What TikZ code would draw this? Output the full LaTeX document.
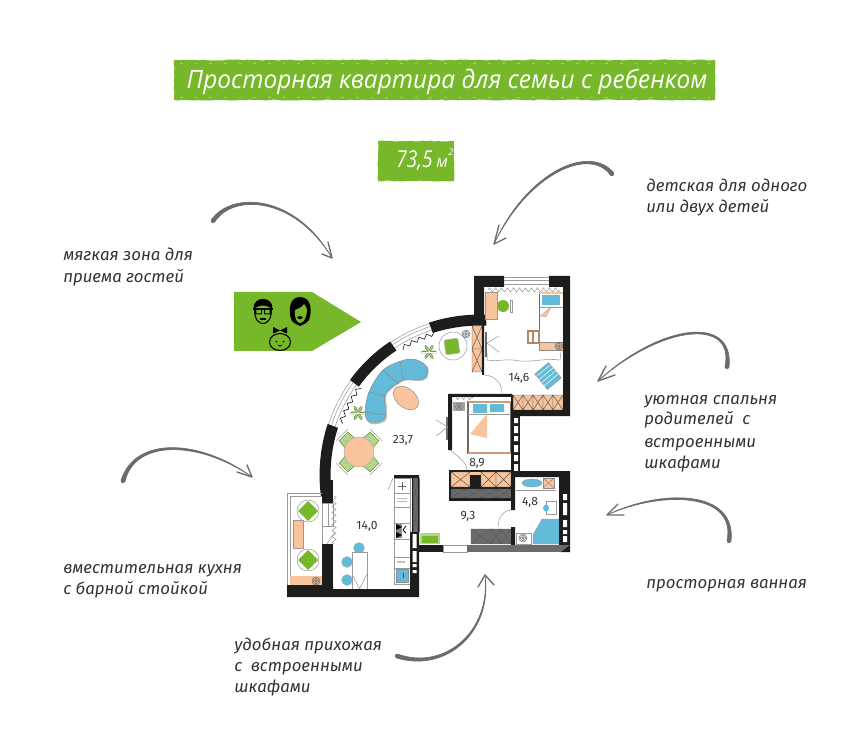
\documentclass[tikz,border=0pt]{standalone}
\usepackage{fontspec}
\setmainfont{Fira Sans}
\newfontfamily\titlefont{Open Sans}
\usetikzlibrary{decorations.pathmorphing,arrows.meta,calc}
\definecolor{leaf}{HTML}{76B82A}
\definecolor{leaflt}{HTML}{AFD68A}
\definecolor{peach}{HTML}{F9C39C}
\definecolor{sky}{HTML}{62BBD8}
\definecolor{wallk}{HTML}{1D1D1B}
\definecolor{cab}{HTML}{6A6B6D}
\definecolor{ink}{HTML}{333333}
\definecolor{arrowgr}{HTML}{6B6B6B}
\definecolor{thin}{HTML}{9A9A9A}
\tikzset{
  label/.style={font=\fontsize{12.6}{15}\selectfont\itshape,text=ink,anchor=base west,inner sep=0pt},
  area/.style={font=\fontsize{9}{10}\selectfont,text=ink,inner sep=0pt},
  barb/.style={draw=arrowgr,line width=1pt,line cap=round,line join=round},
  thinline/.style={draw=thin,line width=0.4pt},
  zig/.style={draw=thin,line width=0.4pt,decorate,decoration={zigzag,segment length=4.5pt,amplitude=1.6pt}}
}
\newcommand\wallseg[2]{\fill[wallk] plot[domain=#1:#2,samples=30] ({492+(172+6*cos(2*\x-450))*cos(\x)},{487+(172+6*cos(2*\x-450))*sin(\x)}) -- plot[domain=#1:#2,samples=30] ({492+(161+6*cos(2*(#1+#2-\x)-450))*cos(#1+#2-\x)},{487+(161+6*cos(2*(#1+#2-\x)-450))*sin(#1+#2-\x)}) -- cycle;}
\newcommand\winarc[3]{\draw[thinline] plot[domain=#2:#3,samples=30] ({492+(#1+6*cos(2*\x-450))*cos(\x)},{487+(#1+6*cos(2*\x-450))*sin(\x)});}
\newcommand\winseg[2]{\winarc{171}{#1}{#2}\winarc{168}{#1}{#2}\winarc{164}{#1}{#2}
  \pgfmathtruncatemacro\zn{(#2-#1)/1.4}
  \draw[thin,line width=0.4pt] plot[domain=0:\zn-1,samples=\zn] ({492+(160+6*cos(2*(#1+2+1.4*\x)-450)+2*(2*mod(round(\x),2)-1))*cos(#1+2+1.4*\x)},{487+(160+6*cos(2*(#1+2+1.4*\x)-450)+2*(2*mod(round(\x),2)-1))*sin(#1+2+1.4*\x)});}
\newcommand\ward[5]{\fill[#5] (#1,#2) rectangle (#3,#4);
  \draw[black!65,line width=0.35pt] (#1,#2) rectangle (#3,#4) (#1,#2) -- (#3,#4) (#1,#4) -- (#3,#2);}
\newcommand\spiro[2]{\draw[black!60,line width=0.35pt] (#1,#2) circle[radius=4] (#1,#2) circle[radius=2.6] (#1,#2) circle[radius=1.2];}
% tapered curved arrow: thick tail (p0), thin tip (p1)
\newcommand\taper[4]{\filldraw[fill=arrowgr,draw=arrowgr,line width=.5pt,line join=round] ($(#1)!1.5pt!90:(#2)$) .. controls ($(#2)!1.25pt!90:(#3)$) and ($(#3)!.7pt!90:(#4)$) .. (#4)
   .. controls ($(#3)!.7pt!-90:(#4)$) and ($(#2)!1.25pt!-90:(#3)$) .. ($(#1)!1.5pt!-90:(#2)$) -- cycle;
   \fill[arrowgr] (#1) circle[radius=1.6pt];}
\begin{document}
\begin{tikzpicture}[x=0.75pt,y=-0.75pt]
\useasboundingbox (0,0) rectangle (860,755);
\fill[white] (0,0) rectangle (860,755);

% title
\fill[leaf,decorate,decoration={random steps,segment length=3pt,amplitude=0.4pt}] (174,60) rectangle (715,100);
\draw[white,opacity=.35,line width=0.4pt,dash pattern=on 2pt off 9pt] (180,63) -- (710,63) (180,97) -- (710,97);
\node[font=\titlefont\fontsize{19}{22}\selectfont\itshape,text=white,inner sep=0pt,anchor=base] (title) at (447,89) {\scalebox{.965}[1]{Просторная квартира для семьи с ребенком}};
% area
\fill[leaf,decorate,decoration={random steps,segment length=3pt,amplitude=0.4pt}] (378,141) rectangle (454,181);
\node[font=\titlefont\fontsize{17.5}{20}\selectfont\itshape,text=white,inner sep=0pt,anchor=base east] (areanum) at (433,168) {\scalebox{.82}[1]{73,5}};
\node[font=\titlefont\fontsize{12.5}{14}\selectfont\itshape,text=white,inner sep=0pt,anchor=base west] (areaunit) at (436,168) {м};
\node[font=\titlefont\fontsize{7}{8}\selectfont\itshape,text=white,inner sep=0pt] (areasup) at (451,152) {2};

% family pentagon
\fill[leaf] (234,292) -- (312,292) -- (361,322) -- (312,351) -- (234,351) -- cycle;
% man
\begin{scope}[shift={(263,312)}]
\draw[black,line width=0.8pt] (-8.5,-3) .. controls (-8.5,8) and (-4,11.5) .. (0,11.5) .. controls (4,11.5) and (8.5,8) .. (8.5,-3);
\fill[black] (-9.5,-3) .. controls (-10.5,-16.5) and (10.5,-16.5) .. (9.5,-3) -- (6,-5) .. controls (2,-7) and (-2,-7) .. (-6,-5) -- cycle;
\draw[black,line width=1pt] (-10,-3) -- (10,-3);
\fill[black] (-8,-3) rectangle (-1,2.5) (1,-3) rectangle (8,2.5);
\fill[leaf] (-6.7,-2) rectangle (-2.2,1.4) (2.2,-2) rectangle (6.7,1.4);
\fill[black] (-3,6.5) rectangle (3,7.6);
\end{scope}
% woman
\begin{scope}[shift={(300,312)}]
\fill[black] (0,-15) .. controls (-13,-15) and (-11,4) .. (-8,9) .. controls (-5,12) and (-2,13) .. (0,14) .. controls (3,13) and (7,11) .. (9,8) .. controls (12,0) and (12,-15) .. (0,-15) -- cycle;
\fill[leaf] (4,-8) .. controls (2,-4) and (-3,-3) .. (-5,-2) .. controls (-6,6) and (-3,11) .. (0,11) .. controls (4,11) and (7,5) .. (7,-3) .. controls (6,-5) and (5,-7) .. (4,-8) -- cycle;
\fill[black] (-3,5) .. controls (-1,3.8) and (1,3.8) .. (3,5) .. controls (1,8) and (-1,8) .. (-3,5) -- cycle;
\end{scope}
% baby
\begin{scope}[shift={(280,342)}]
\draw[black,line width=0.8pt] (0,0) ellipse[x radius=10.5,y radius=8.5];
\fill[black] (0,-11.5) -- (-7,-15) -- (-7,-8.5) -- cycle (0,-11.5) -- (7,-15) -- (7,-8.5) -- cycle;
\fill[black] (-3.5,-0.5) circle[radius=0.8] (3.5,-0.5) circle[radius=0.8];
\draw[black,line width=0.5pt] (-2,3) .. controls (-1,4.5) and (1,4.5) .. (2,3);
\end{scope}

% ---------- floor plan: fittings first
% curved wall windows
\winseg{201}{217}
\winseg{235}{249}
\wallseg{249}{268}
\wallseg{217}{235}
\wallseg{177}{201}
% balcony frame
\draw[thinline] (287,493) rectangle (322,585) (290,496) rectangle (322,585);
\fill[peach] (290,576) rectangle (322,586);
\spiro{316}{581}
\fill[peach,draw=black!40,line width=0.3pt] (293,520) rectangle (303,548);
\draw[thinline] (308,511) circle[radius=11] (308,560) circle[radius=11];
\fill[leaf] (308,501) -- (318,511) -- (308,521) -- (298,511) -- cycle;
\fill[leaf] (308,550) -- (318,560) -- (308,570) -- (298,560) -- cycle;
% door between balcony and kitchen
\draw[thinline] (322,503) rectangle (333,526);
\draw[thinline] (328,503) -- (328,526);
\draw[zig] (334,496) -- (334,544);
\draw[thinline] (327,544) -- (335,532);

% dining
\begin{scope}[shift={(359,452)}]
\foreach \a in {45,135,225,315}{
  \begin{scope}[rotate=\a]
  \fill[leaflt,draw=leaf!70!black,line width=0.3pt] (12,-7) -- (22,-6) -- (22,6) -- (12,7) -- cycle;
  \draw[thinline] (24,-8) -- (24,8);
  \end{scope}}
\fill[peach,draw=black!35,line width=0.3pt] (0,0) circle[radius=15];
\end{scope}

% sofa
\fill[black!25] plot[smooth cycle,tension=0.55] coordinates {(366,414)(370,393)(384,371)(405,361)(418,361)(428,368)(427,378)(419,381)(404,381)(387,394)(387,408)(386,420)(378,424)(369,423)};
\fill[sky,draw=black!45,line width=0.35pt] plot[smooth cycle,tension=0.55] coordinates {(365,412)(369,392)(383,370)(404,360)(417,360)(427,367)(426,377)(418,380)(403,380)(386,393)(385,407)(385,418)(377,422)(368,421)};
\draw[black!45,line width=0.35pt] (369,392) -- (386,396) (383,370) -- (399,384) (400,361) -- (403,380) (365,412) -- (385,415);
% coffee table
\fill[peach,draw=black!45,line width=0.35pt,rotate around={-40:(406,398)}] (406,398) ellipse[x radius=14.5,y radius=9.5];
% plants
\foreach \px/\py/\nm in {429/352/a,358/413/b}{
  \begin{scope}[shift={(\px,\py)}]
  \foreach \a in {0,60,...,300}{
    \fill[leaf!70!black!80,rotate=\a] (0,0) .. controls (3,-2) and (7,-2) .. (8,0) .. controls (7,2) and (3,2) .. (0,0) -- cycle;}
  \foreach \a in {0,60,...,300}{\draw[white,line width=.25pt,rotate=\a] (0,0) -- (7,0);}
  \end{scope}}
% armchair
\draw[thinline] (453,346) circle[radius=14];
\fill[leaf,draw=black!30,line width=0.3pt,rounded corners=1pt,rotate around={8:(452,347)}] (445,339) -- (459,339) -- (459,354) -- (445,354) -- cycle;
\spiro{466}{334}

% kids room
\draw[zig] (488,290) -- (560,290);
\fill[peach] (485,292) rectangle (497,319);
\draw[black!40,line width=.3pt] (485,292) rectangle (497,319);
\draw[thinline] (510,300) rectangle (512,312);
\fill[leaf] (503,306) circle[radius=6];
\draw[cab,line width=.5pt] (539,292) -- (539,350);
\fill[peach] (539,292) rectangle (563,294.5);
\fill[sky] (542,295) rectangle (560,305);
\fill[peach,draw=black!35,line width=.25pt] (551,307) -- (540,316) -- (546,317) -- cycle;
\draw[thinline] (539,307) -- (563,307);
\fill[peach,draw=black!45,line width=.3pt] (539,342) rectangle (563,350);
\spiro{559}{346}
\draw[peach!70!black,line width=.9pt] (528,331) rectangle (539,343) (533,331) -- (533,343);
\draw[thinline] (487,353) -- (487,360) .. controls (500,362) and (505,358) .. (520,361) .. controls (535,362) and (545,358) .. (560,360) -- (561,352);
\fill[sky,draw=black!40,line width=.3pt,rotate around={40:(548,376)}] (539,366) rectangle (557,386);
\foreach \t in {-7,-3,1,5}{\draw[white,line width=.4pt,rotate around={40:(548,376)}] (539,376+\t) -- (557,376+\t);}
\ward{472}{326}{482}{349}{peach}
\ward{472}{349}{482}{372}{peach}
\foreach \a/\b in {513/523,523/533,533/543,543/553,553/563}{\ward{\a}{395}{\b}{410}{peach}}
\fill[cab] (485,332) rectangle (487,357);
\draw[thinline] (487,343) -- (499,336) (487,343) -- (499,352);
% door arc kids
\draw[thinline] (484,375) .. controls (494,375) and (502,383) .. (502,393);

% parents room
\draw[zig] (453,397.5) -- (473,397.5);
\fill[cab!60] (453,402) rectangle (465,411);
\draw[black!60,line width=.3pt] (459,406.5) circle[radius=3.5] (459,406.5) circle[radius=1.5];
\fill[white,draw=cab,line width=.9pt] (468,402) rectangle (511,453);
\draw[peach!80!black,line width=1.2pt] (468,402) -- (511,402) (468,453) -- (511,453);
\fill[sky] (473,404) rectangle (487,413) (490,404) rectangle (504,412);
\draw[thinline] (468,414) -- (511,414);
\fill[peach] (487,414) -- (470,434) -- (487,438) -- cycle;
\fill[cab] (445.5,417) rectangle (448,440);
\draw[thinline] (448,427) -- (436,420) (448,427) -- (436,436);
\draw[thinline] (450,450) .. controls (456,455) and (467,462) .. (467,470);
% parents' wardrobes and hall cabinets
\fill[wallk] (449,470) rectangle (512,500);
\ward{451}{472}{470}{487}{peach}
\fill[wallk] (470,474) rectangle (481,487);
\fill[peach] (470,472) rectangle (481,475);
\ward{481}{472}{496}{487}{peach}
\ward{496}{472}{511}{487}{peach}
\foreach \a/\b in {451/465,465/482,482/497,497/511}{\ward{\a}{489}{\b}{498}{cab}}
% hall cabinet
\foreach \a/\b in {471/491,491/501,501/511}{\ward{\a}{529}{\b}{544}{cab}}
% bench
\fill[leaflt] (420,533) rectangle (440,544);
\fill[leaf] (422,536) rectangle (438,543);
% kitchen counter
\draw[thinline] (394,478) rectangle (410,584);
\foreach \yy in {493,507,523,539,557,568}{\draw[thinline] (394,\yy) -- (410,\yy);}
\fill[cab!80] (396,524) rectangle (409,538);
\fill[black] (396,524) -- (402,527) -- (396,530) -- cycle (396,532) -- (402,535) -- (396,538) -- cycle;
\draw[white,line width=.5pt] (402,524) -- (402,538);
\fill[white] (403,524) rectangle (409,538);
\draw[black,line width=.6pt] (403,530) -- (406,533) (406,526) -- (403,530);
\draw[black!60,line width=.3pt] (402,482) -- (402,490) (398,486) -- (406,486);
\fill[black!25] (397,498) rectangle (407,499) (397,501) rectangle (407,502);
\fill[black!25] (397,561) rectangle (405,563);
\fill[sky,draw=black!45,line width=.3pt] (396,569) rectangle (408,582);
\draw[black!70,line width=.4pt] (403,573) -- (403,578);
\draw[thinline] (388,490) -- (393,478);
% cabinet strip next to kitchen
\ward{413}{478}{418}{505}{cab}
\ward{413}{505}{418}{532}{cab}
% bar
\foreach \sx/\sy in {359/548,347/562,347/580}{\fill[sky,draw=black!30,line width=.25pt] (\sx,\sy) circle[radius=5.5];}
\fill[white,draw=thin,line width=.4pt] (352,552) rectangle (367,589);
\draw[thinline] (352,574) -- (359.5,589) -- (367,574);
\fill[cab] (350,588.5) rectangle (370,590.5);
% bath
\fill[peach,draw=black!45,line width=.3pt] (543,478) rectangle (554,488);
\draw[black!50,line width=.3pt] (543,478) -- (554,488) (543,488) -- (554,478);
\draw[thinline] (516,490) -- (556,490);
\fill[sky,draw=black!40,line width=.3pt] (532,483) ellipse[x radius=10,y radius=4];
\draw[thinline] (546,501) rectangle (556,514);
\fill[sky] (546,508) ellipse[x radius=3,y radius=3.5];
\spiro{523}{538}
\draw[thinline] (516,533) rectangle (531,544);
\fill[sky,draw=black!40,line width=.3pt] (533,535) -- (542,519) -- (559,519) -- (559,544) -- (533,544) -- cycle;
\draw[thinline] (498,527) .. controls (498,516) and (505,510) .. (511,510);

% ---------- walls
\fill[wallk] (474,276) -- (504,276) -- (504,287) -- (484,287) -- (484,375) -- (482,375) -- (482,323) -- (474,323) -- cycle;
\draw[thinline] (504,277) -- (549,277) (504,280) -- (549,280) (504,284) -- (549,284);
\fill[wallk] (549,276) rectangle (570,287) (563,287) rectangle (570,416) (512,410) rectangle (570,416) (511,395) rectangle (513,416);
% right column with holes
\fill[wallk] (511,416) rectangle (520,475);
\fill[white] (514,418) rectangle (518,423) (514,426) rectangle (518,433) (514,436) rectangle (518,441) (514,445) rectangle (518,452) (514,455) rectangle (518,461) (514,464) rectangle (518,472);
% parents wall
\fill[wallk] (448,394) rectangle (512,397) (448,394) rectangle (452,450);
\fill[wallk] (449,499) rectangle (512,501);
% bath wall
\fill[wallk] (511,471) rectangle (570,477) (559,477) rectangle (570,545) (511,477) rectangle (515,510) (511,527) rectangle (515,545);
\fill[white] (563,494) rectangle (567,500) (563,503) rectangle (567,515) (563,520) rectangle (567,527) (563,530) rectangle (567,534) (563,536) rectangle (567,542);
% hall bottom
\fill[wallk] (419,545) rectangle (443,552);
\draw[thinline] (443,545) rectangle (467,552);
\fill[cab] (467,545) rectangle (570,552);
\fill[wallk] (561,552) -- (570,552) -- (570,545) -- cycle;
% lower left
\fill[wallk] (322,480) rectangle (333,503);
\fill[wallk] (322,544) rectangle (333,586);
\fill[wallk] (287,585) -- (333,585) -- (333,589) -- (410,589) -- (410,532) -- (419,532) -- (419,597) -- (287,597) -- cycle;
\fill[wallk] (394,475) rectangle (419,478) (418,478) rectangle (419.5,532) (412,478) rectangle (413,532);
\fill[white] (412.5,534) rectangle (416.5,548) (412.5,551) rectangle (416.5,562) (412.5,564) rectangle (416.5,567) (412.5,570) rectangle (416.5,573);

% room areas
\node[area] (a237) at (403,440) {23,7};
\node[area] (a146) at (519,378) {14,6};
\node[area] (a89) at (477,463) {8,9};
\node[area] (a48) at (530,502) {4,8};
\node[area] (a93) at (468,516) {9,3};
\node[area] (a140) at (367,526) {14,0};

% labels
\node[label] (lguesta) at (63,261) {мягкая зона для};
\node[label] (lguestb) at (63,283) {приема гостей};
\node[label] (lkidsa) at (646,192) {детская для одного};
\node[label] (lkidsb) at (646,213) {или двух детей};
\node[label] (lbeda) at (644,404) {уютная спальня};
\node[label] (lbedb) at (644,425) {родителей\ \ с};
\node[label] (lbedc) at (644,447) {встроенными};
\node[label] (lbedd) at (644,468) {шкафами};
\node[label] (lbath) at (646,588) {просторная ванная};
\node[label] (lhalla) at (234,650) {удобная прихожая};
\node[label] (lhallb) at (234,671) {с\ \ встроенными};
\node[label] (lhallc) at (234,692) {шкафами};
\node[label] (lkita) at (63,573) {вместительная кухня};
\node[label] (lkitb) at (63,594) {с барной стойкой};

% curved arrows
\coordinate (g0) at (213,221); \coordinate (g1) at (232,192); \coordinate (g2) at (295,195); \coordinate (g3) at (332,258);
\taper{g0}{g1}{g2}{g3}
\draw[barb] (322,254) -- (g3) -- (328,242);
\coordinate (k0) at (612,174); \coordinate (k1) at (590,145); \coordinate (k2) at (528,172); \coordinate (k3) at (494,244);
\taper{k0}{k1}{k2}{k3}
\draw[barb] (499,225) -- (k3) -- (506,238);
\coordinate (b0) at (727,367); \coordinate (b1) at (735,315); \coordinate (b2) at (660,325); \coordinate (b3) at (598,381);
\taper{b0}{b1}{b2}{b3}
\draw[barb] (606,366) -- (b3) -- (615,375);
\coordinate (w0) at (729,541); \coordinate (w1) at (737,490); \coordinate (w2) at (660,490); \coordinate (w3) at (607,515);
\taper{w0}{w1}{w2}{w3}
\draw[barb] (618,504) -- (w3) -- (624,515);
\coordinate (h0) at (397,656); \coordinate (h1) at (445,672); \coordinate (h2) at (492,632); \coordinate (h3) at (485,575);
\taper{h0}{h1}{h2}{h3}
\draw[barb] (478,587) -- (h3) -- (494,585);
\coordinate (c0) at (123,481); \coordinate (c1) at (135,437); \coordinate (c2) at (200,440); \coordinate (c3) at (252,477);
\taper{c0}{c1}{c2}{c3}
\draw[barb] (237,472) -- (c3) -- (247,465);
\end{tikzpicture}
\end{document}
